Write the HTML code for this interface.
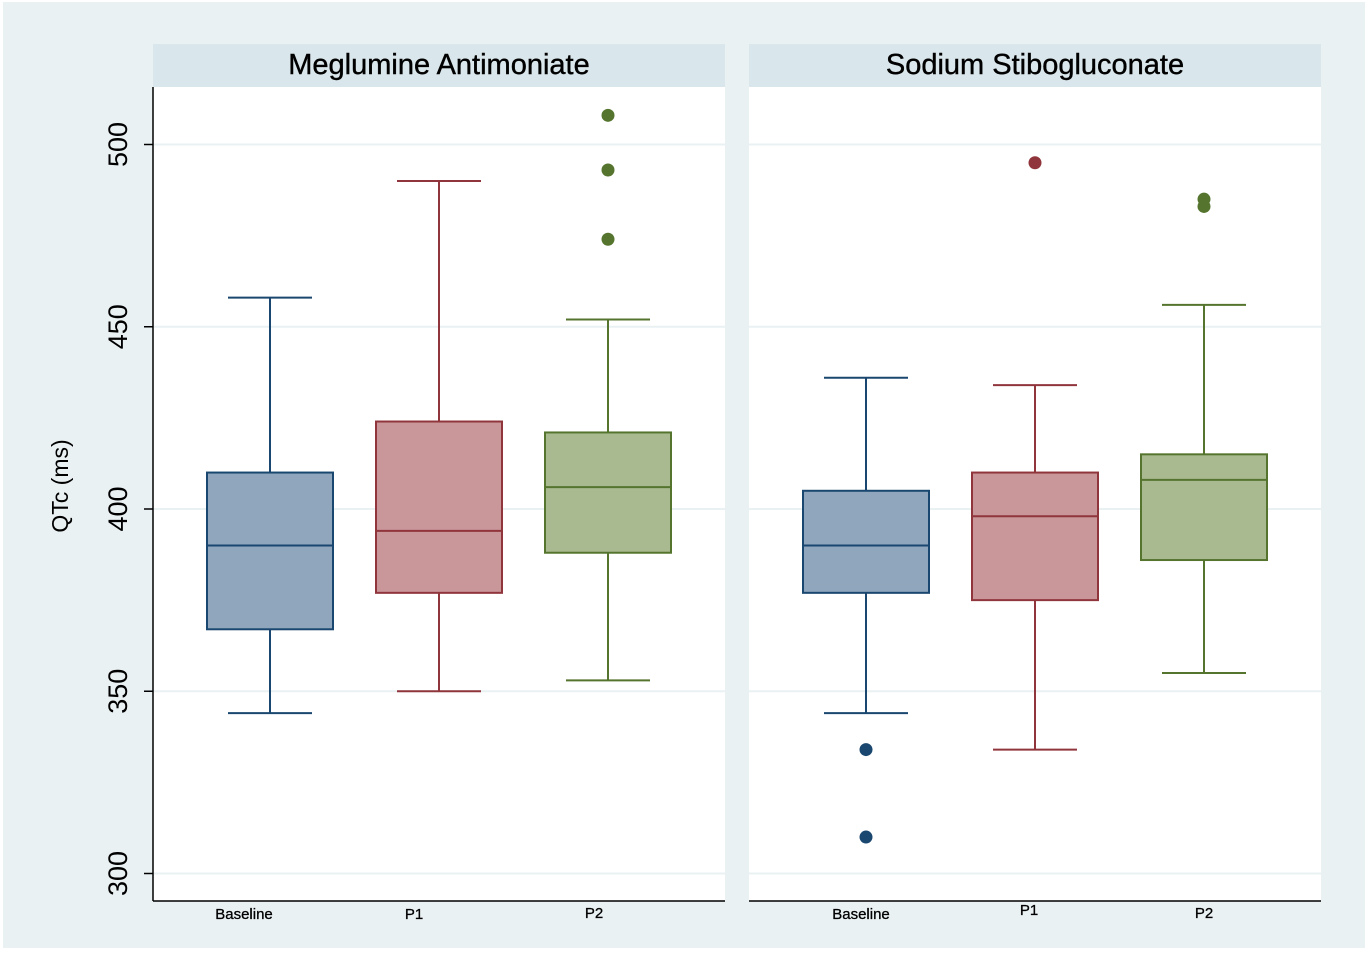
<!DOCTYPE html>
<html><head><meta charset="utf-8"><style>
html,body{margin:0;padding:0;background:#fff;}
svg{display:block;font-family:"Liberation Sans",Arial,sans-serif;}
</style></head><body>
<svg id="chart" width="1368" height="955" viewBox="0 0 1368 955">
<rect x="3" y="2" width="1362" height="946" fill="#eaf1f3"/>
<text transform="translate(68,486) rotate(-90)" text-anchor="middle" font-size="23" fill="#000">QTc (ms)</text>
<g id="panels"></g>
</svg>
<script>
const panelTitles = ["Meglumine Antimoniate","Sodium Stibogluconate"];
const categories = ["Baseline","P1","P2"];
const yTicks = [300,350,400,450,500];
// [whiskerLow, q1, median, q3, whiskerHigh] per panel per category
const meglumineStats = [[344,367,390,410,458],[350,377,394,424,490],[353,388,406,421,452]];
const sodiumStats = [[344,377,390,405,436],[334,375,398,410,434],[355,386,408,415,456]];
const meglumineOutliers = [[],[],[508,493,474]];
const sodiumOutliers = [[334,310],[495],[485,483]];
const strokes = ["#1a476f","#90353b","#55752f"];
const fills = ["#90a6bc","#c9979a","#a9ba90"];
const NS="http://www.w3.org/2000/svg";
const g=document.getElementById('panels');
function y(v){return 509-(v-400)*3.645;}
function mk(t,a,parent){const e=document.createElementNS(NS,t);for(const k in a)e.setAttribute(k,a[k]);(parent||g).appendChild(e);return e;}
const panelX=[153,749], pw=572;
const labelOffsets=[[-26,-25,-14],[-5,-6,0]];
const labelY=[[919,919,918],[919,915,918]];
const stats=[meglumineStats,sodiumStats], outs=[meglumineOutliers,sodiumOutliers];
panelX.forEach((px,p)=>{
  const hdr=mk('rect',{x:px,y:44,width:pw,height:43,fill:'#d9e6eb'});
  
  
  const tt=mk('text',{x:px+pw/2,y:74,'text-anchor':'middle','font-size':29,fill:'#000','stroke':'#000','stroke-width':0.4});
  tt.textContent=panelTitles[p];
  
  
  const pa=mk('rect',{x:px,y:87,width:pw,height:814,fill:'#fff'});
  
  
  yTicks.forEach(t=>{
    const gl=mk('line',{x1:px,x2:px+pw,y1:y(t),y2:y(t),stroke:'#eaf1f3','stroke-width':2});
    
    
  });
  const xa=mk('line',{x1:px,x2:px+pw,y1:901,y2:901,stroke:'#000','stroke-width':1.5});
  
  
  categories.forEach((c,i)=>{
    const cx=px+117+i*169, s=stats[p][i], st=strokes[i];
    const w1=mk('line',{x1:cx,x2:cx,y1:y(s[0]),y2:y(s[4]),stroke:st,'stroke-width':2});
    
    
    [s[0],s[4]].forEach(v=>{
      const cap=mk('line',{x1:cx-42,x2:cx+42,y1:y(v),y2:y(v),stroke:st,'stroke-width':2});
      
      
    });
    const b=mk('rect',{x:cx-63,y:y(s[3]),width:126,height:y(s[1])-y(s[3]),fill:fills[i],stroke:st,'stroke-width':2});
    
    
    const m=mk('line',{x1:cx-63,x2:cx+63,y1:y(s[2]),y2:y(s[2]),stroke:st,'stroke-width':2});
    
    
    outs[p][i].forEach(v=>{
      const o=mk('circle',{cx:cx,cy:y(v),r:6.5,fill:st});
      
      
    });
    const lb=mk('text',{x:cx+labelOffsets[p][i],y:labelY[p][i],'text-anchor':'middle','font-size':15,fill:'#000','stroke':'#000','stroke-width':0.3});
    lb.textContent=c;
    
    
  });
});
const ya=mk('line',{x1:153,x2:153,y1:87,y2:901,stroke:'#000','stroke-width':1.5});


yTicks.forEach(t=>{
  const tk=mk('line',{x1:144,x2:153,y1:y(t),y2:y(t),stroke:'#000','stroke-width':1.5});
  
  
  const tl=mk('text',{transform:'translate(127,'+y(t)+') rotate(-90)','text-anchor':'middle','font-size':27,fill:'#000'});
  tl.textContent=t;
  
  
});
</script>
</body></html>
